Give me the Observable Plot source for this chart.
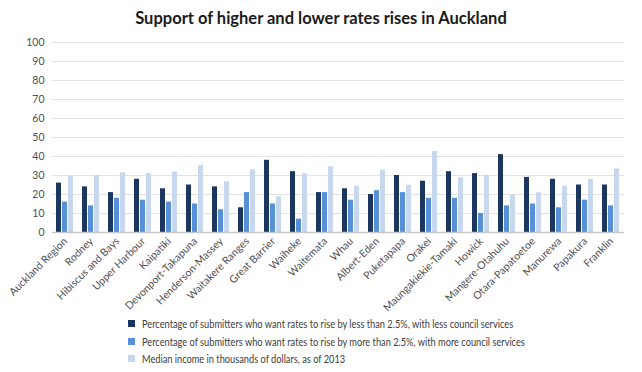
<!DOCTYPE html>
<html>
<head>
<meta charset="utf-8">
<script src="https://cdn.jsdelivr.net/npm/d3@7"></script>
<script src="https://cdn.jsdelivr.net/npm/@observablehq/plot@0.6"></script>
<style>
  body { margin: 0; background: #fff; font-family: Lato, "Liberation Sans", sans-serif; }
  #wrap { width: 642px; height: 372px; position: relative; overflow: hidden; }
  #title { height: 32px; line-height: 37px; text-align: center; font-weight: bold; font-size: 16.5px; color: #1a1a1a; }
  #legend { position: absolute; left: 128px; top: 315px; font-size: 11px; color: #404040; }
  .row { height: 17.5px; display: flex; align-items: center; white-space: nowrap; }
  .sw { width: 7px; height: 7px; margin-right: 7px; flex: none; }
  .lt { display: inline-block; transform: scaleX(0.84); transform-origin: left center; }
</style>
</head>
<body>
<div id="wrap">
  <div id="title">Support of higher and lower rates rises in Auckland</div>
  <div id="chart"></div>
  <div id="legend"></div>
</div>
<script>
const regions = ["Auckland Region","Rodney","Hibiscus and Bays","Upper Harbour","Kaipatiki","Devonport-Takapuna","Henderson-Massey","Waitakere Ranges","Great Barrier","Waiheke","Waitemata","Whau","Albert-Eden","Puketapapa","Orakei","Maungakiekie-Tamaki","Howick","Mangere-Otahuhu","Otara-Papatoetoe","Manurewa","Papakura","Franklin"];
const lessServices = [26,24,21,28,23,25,24,13,38,32,21,23,20,30,27,32,31,41,29,28,25,25];
const moreServices = [16,14,18,17,16,15,12,21,15,7,21,17,22,21,18,18,10,14,15,13,17,14];
const medianIncome = [29.6,30,31.4,31,31.9,35.3,26.7,33,18.8,30.9,34.6,24.4,32.8,24.9,42.6,28.8,30,19.6,20.9,24.4,27.9,33.5];
const seriesNames = [
  "Percentage of submitters who want rates to rise by less than 2.5%, with less council services",
  "Percentage of submitters who want rates to rise by more than 2.5%, with more council services",
  "Median income in thousands of dollars, as of 2013"
];
const colors = ["#1b365f", "#5690d6", "#c6d7ee"];
const yTicks = [0,10,20,30,40,50,60,70,80,90,100];

const table = [];
regions.forEach((r, i) => {
  [lessServices, moreServices, medianIncome].forEach((arr, k) => {
    table.push({region: r, series: seriesNames[k], value: arr[i]});
  });
});

const chart = Plot.plot({
  width: 642,
  height: 280,
  marginTop: 10,
  marginBottom: 80,
  marginLeft: 43,
  marginRight: 10,
  style: {fontFamily: "Lato, 'Liberation Sans', sans-serif", fontSize: "10.5px", color: "#505050", background: "#fff"},
  facet: {data: table, x: "region"},
  fx: {domain: regions, paddingInner: 0, paddingOuter: 0, tickRotate: -45, label: null, tickSize: 0, tickPadding: 7},
  x: {domain: seriesNames, axis: null, paddingInner: 0.13, paddingOuter: 0.48},
  y: {domain: [0, 100], ticks: yTicks, tickSize: 0, tickPadding: 8, label: null, grid: false},
  color: {domain: seriesNames, range: colors},
  marks: [
    Plot.ruleY(yTicks.slice(1), {stroke: "#e3e3e3", strokeWidth: 1}),
    Plot.barY(table, {x: "series", y: "value", fill: "series"}),
    Plot.ruleY([0], {stroke: "#c8c8c8", strokeWidth: 1.5})
  ]
});
document.getElementById("chart").appendChild(chart);

const legend = document.getElementById("legend");
seriesNames.forEach((s, k) => {
  const row = document.createElement("div");
  row.className = "row";
  const sw = document.createElement("div");
  sw.className = "sw";
  sw.style.background = colors[k];
  const t = document.createElement("span");
  t.className = "lt";
  t.textContent = s;
  row.appendChild(sw);
  row.appendChild(t);
  legend.appendChild(row);
});
</script>
</body>
</html>
